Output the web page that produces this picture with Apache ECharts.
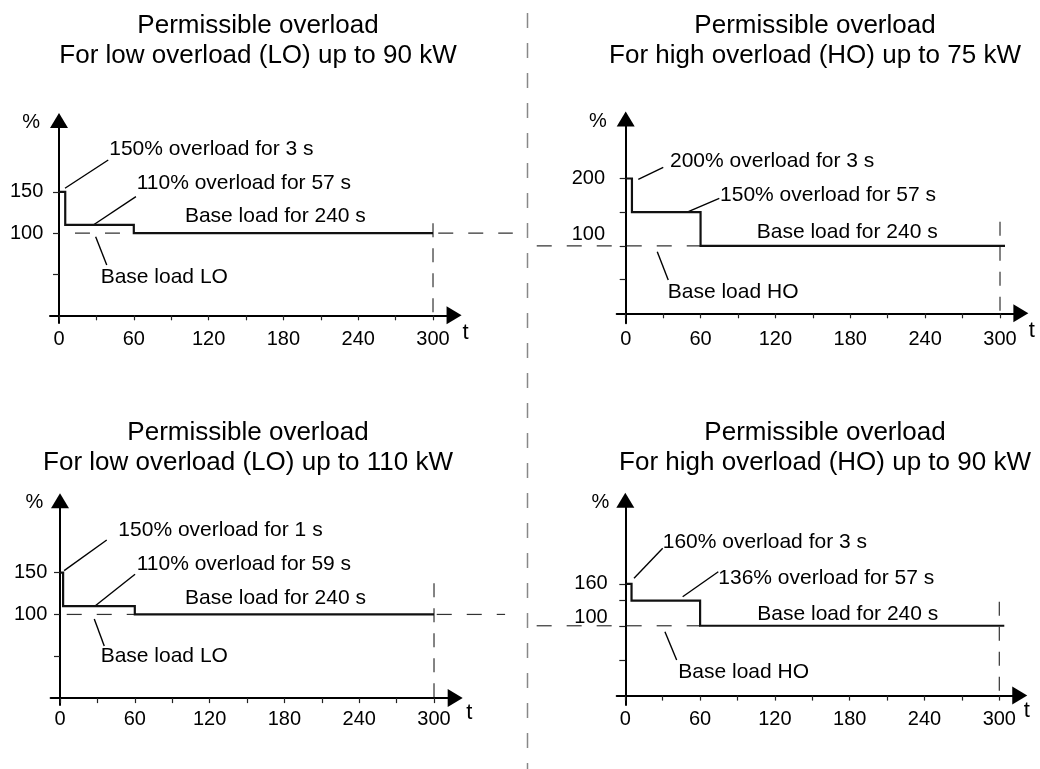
<!DOCTYPE html>
<html><head><meta charset="utf-8">
<script src="https://cdn.jsdelivr.net/npm/echarts@6/dist/echarts.min.js"></script>
<style>html,body{margin:0;padding:0;background:#fff}#c{width:1040px;height:769px}</style>
</head><body><div id="c"></div>
<script>
// ---------- DATA ----------
const titles = [
  'Permissible overload\nFor low overload (LO) up to 90 kW',
  'Permissible overload\nFor high overload (HO) up to 75 kW',
  'Permissible overload\nFor low overload (LO) up to 110 kW',
  'Permissible overload\nFor high overload (HO) up to 90 kW'
];
const xTicks = [0, 30, 60, 90, 120, 150, 180, 210, 240, 270, 300];
const xLabels = [0, 60, 120, 180, 240, 300];

// Top-left: LO up to 90 kW
const tlStep = [[0,150],[5,150],[5,110],[60,110],[60,100],[300,100]];
const tlBaseDashA = [[12.8,100],[60,100]];
const tlBaseDashB = [[304.2,100],[364,100]];
const tlEndDash = [[300,111.8],[300,0]];
const tlLeaders = [[[4.8,154.4],[39.5,188.8]], [[27.5,109.8],[61.7,144.2]], [[29.4,95.5],[38.3,61.1]]];
const tlNotes = [[40.3,202.1,'150% overload for 3 s'],[62.3,160.4,'110% overload for 57 s'],[101,119.9,'Base load for 240 s'],[33.4,46.2,'Base load LO']];
const tlYTicks = [50,100,150];
const tlYLabels = [100,150];

// Top-right: HO up to 75 kW
const trStep = [[0,200],[5,200],[5,150],[60,150],[60,100],[304,100]];
const trBaseDash = [[-71.3,100],[60,100]];
const trEndDash = [[300,135.9],[300,0]];
const trLeaders = [[[10.1,198.8],[30.1,216.6]], [[50.2,150.7],[75,170.6]], [[25.3,91.4],[34.1,49.4]]];
const trNotes = [[35.5,226,'200% overload for 3 s'],[75.6,174.5,'150% overload for 57 s'],[105,119.6,'Base load for 240 s'],[33.7,32,'Base load HO']];
const trYTicks = [50,100,150,200];
const trYLabels = [100,200];

// Bottom-left: LO up to 110 kW
const blStep = [[0,150],[2.5,150],[2.5,110],[60,110],[60,100],[300,100]];
const blBaseDashA = [[5.4,100],[60,100]];
const blBaseDashB = [[302.2,100],[357,100]];
const blEndDash = [[300,137.2],[300,0]];
const blLeaders = [[[3.3,152.3],[37.5,188.9]], [[28.1,110.1],[60.2,148]], [[27.5,94.5],[35.5,62.3]]];
const blNotes = [[46.8,200.9,'150% overload for 1 s'],[61.5,159.9,'110% overload for 59 s'],[100.3,119.3,'Base load for 240 s'],[32.6,49.5,'Base load LO']];
const blYTicks = [50,100,150];
const blYLabels = [100,150];

// Bottom-right: HO up to 90 kW
const brStep = [[0,160],[5,160],[5,136],[60,136],[60,100],[304,100]];
const brBaseDash = [[-71.1,100],[60,100]];
const brEndDash = [[300,134.5],[300,0]];
const brLeaders = [[[7,168],[30,211]], [[46,141.6],[74.6,177.4]], [[31.8,91.5],[41.2,51]]];
const brNotes = [[30,219,'160% overload for 3 s'],[74.6,168,'136% overload for 57 s'],[105.9,116.4,'Base load for 240 s'],[42.5,33.4,'Base load HO']];
const brYTicks = [50,100,136,160];
const brYLabels = [100,160];

// ---------- LAYOUT / STYLE ----------
const FONT = '"Liberation Sans", Arial, Helvetica, sans-serif';
const INK = '#000';
const OVER_MIN = -80, OVER_MAX = 380;   // overlay extent for dashed guides
const layouts = [
  {x0:59,    kx:1.2467, y0:315.3, ky:0.8227, xmin:-7.2, xmax:316.9, ymin:-9.4,  ymax:236.8, yLM:6.7,  xLM:6, tGap:8.5, tDrop:18, pctPad:19, raise:0,    tx:258, ty:11},
  {x0:625.7, kx:1.2477, y0:313.3, ky:0.674,  xmin:-7.2, xmax:316.7, ymin:-14.8, ymax:288.3, yLM:11.7, xLM:6, tGap:8,   tDrop:18, pctPad:19, raise:11.7, tx:815, ty:10.5},
  {x0:60,    kx:1.2467, y0:698.1, ky:0.8367, xmin:-7.5, xmax:317,   ymin:-8.2,  ymax:235.8, yLM:3.3,  xLM:5, tGap:11,  tDrop:15, pctPad:16.7, raise:0,  tx:248, ty:417.5},
  {x0:625.3, kx:1.2467, y0:695.6, ky:0.6983, xmin:-6.9, xmax:316.4, ymin:-13.5, ymax:279.8, yLM:9,    xLM:4, tGap:4,   tDrop:15, pctPad:16, raise:8.3,  tx:825, ty:417.5}
];
const panels = [
  {step:tlStep, dashes:[tlBaseDashA, tlBaseDashB], endDash:tlEndDash, leaders:tlLeaders, notes:tlNotes, yTicks:tlYTicks, yLabels:tlYLabels},
  {step:trStep, dashes:[trBaseDash], endDash:trEndDash, leaders:trLeaders, notes:trNotes, yTicks:trYTicks, yLabels:trYLabels},
  {step:blStep, dashes:[blBaseDashA, blBaseDashB], endDash:blEndDash, leaders:blLeaders, notes:blNotes, yTicks:blYTicks, yLabels:blYLabels},
  {step:brStep, dashes:[brBaseDash], endDash:brEndDash, leaders:brLeaders, notes:brNotes, yTicks:brYTicks, yLabels:brYLabels}
];

const grid = [], xAxis = [], yAxis = [], series = [], graphic = [];
const N = panels.length;
panels.forEach((p, i) => {
  const L = layouts[i];
  const top = L.y0 - L.ymax * L.ky, height = (L.ymax - L.ymin) * L.ky;
  grid[i] = {left: L.x0 + L.xmin * L.kx, top, width: (L.xmax - L.xmin) * L.kx, height, containLabel: false, outerBoundsMode: 'none'};
  grid[N + i] = {left: L.x0 + OVER_MIN * L.kx, top, width: (OVER_MAX - OVER_MIN) * L.kx, height, containLabel: false, outerBoundsMode: 'none'};

  xAxis[i] = {
    type: 'value', gridIndex: i, min: L.xmin, max: L.xmax,
    splitLine: {show: false},
    axisLine: {show: true, onZero: true, symbol: ['none', 'triangle'], symbolSize: [18, 15], lineStyle: {color: INK, width: 2}},
    axisTick: {show: true, customValues: xTicks, length: 5, lineStyle: {color: '#222', width: 1.2}},
    axisLabel: {show: true, customValues: xLabels, margin: L.xLM, fontSize: 20, color: INK, fontFamily: FONT},
    name: 't', nameLocation: 'end', nameGap: L.tGap, nameMoveOverlap: false,
    nameTextStyle: {fontSize: 22, color: INK, fontFamily: FONT, align: 'left', verticalAlign: 'top', lineHeight: L.tDrop * 2}
  };
  xAxis[N + i] = {type: 'value', gridIndex: N + i, min: OVER_MIN, max: OVER_MAX, show: false,
    axisLine: {show: false}, axisTick: {show: false}, axisLabel: {show: false}, splitLine: {show: false}};

  const raise = L.raise;
  yAxis[i] = {
    type: 'value', gridIndex: i, min: L.ymin, max: L.ymax,
    splitLine: {show: false},
    axisLine: {show: true, onZero: true, symbol: ['none', 'triangle'], symbolSize: [18, 15], lineStyle: {color: INK, width: 2}},
    axisTick: {show: true, customValues: p.yTicks, length: 6, lineStyle: {color: '#222', width: 1.2}},
    axisLabel: {
      show: true, customValues: p.yLabels, margin: L.yLM, fontSize: 20, color: INK, fontFamily: FONT,
      formatter: v => (v === 100 && raise) ? '{r|' + v + '}' : '{n|' + v + '}',
      rich: {
        n: {fontSize: 20, color: INK, fontFamily: FONT},
        r: {fontSize: 20, color: INK, fontFamily: FONT, padding: [0, 0, raise * 2, 0]}
      }
    },
    name: '%', nameLocation: 'end', nameGap: -2, nameMoveOverlap: false,
    nameTextStyle: {fontSize: 20, color: INK, fontFamily: FONT, align: 'right', verticalAlign: 'middle', padding: [0, L.pctPad, 0, 0]}
  };
  yAxis[N + i] = {type: 'value', gridIndex: N + i, min: L.ymin, max: L.ymax, show: false,
    axisLine: {show: false}, axisTick: {show: false}, axisLabel: {show: false}, splitLine: {show: false}};

  const main = {xAxisIndex: i, yAxisIndex: i, symbol: 'none', clip: false, silent: true, animation: false};
  const over = {xAxisIndex: N + i, yAxisIndex: N + i, symbol: 'none', clip: false, silent: true, animation: false};
  p.dashes.forEach(d => series.push(Object.assign({type: 'line', data: d, z: 1,
    lineStyle: {color: '#333', width: 1.2, type: [15, 15]}}, over)));
  series.push(Object.assign({type: 'line', data: p.endDash, z: 1,
    lineStyle: {color: '#333', width: 1.2, type: [14, 11]}}, over));
  series.push(Object.assign({type: 'line', data: p.step, z: 3,
    lineStyle: {color: '#111', width: 2.2, join: 'miter', cap: 'butt'}}, main));
  p.leaders.forEach(seg => series.push(Object.assign({type: 'line', data: seg, z: 2,
    lineStyle: {color: INK, width: 1.4}}, main)));
  series.push({
    type: 'scatter', xAxisIndex: i, yAxisIndex: i, data: p.notes, symbolSize: 0, clip: false, silent: true, animation: false,
    itemStyle: {opacity: 1},
    label: {show: true, position: 'right', distance: 0, formatter: q => q.data[2], fontSize: 21, color: INK, opacity: 1, textBorderWidth: 0, fontFamily: FONT}
  });
  graphic.push({
    type: 'text', x: L.tx, y: L.ty, silent: true,
    style: {text: titles[i], align: 'center', verticalAlign: 'top', fontSize: 26, lineHeight: 30, fontFamily: FONT, fill: INK}
  });
});
graphic.push({
  type: 'line', silent: true, shape: {x1: 527.5, y1: 13, x2: 527.5, y2: 769},
  style: {stroke: '#888', lineWidth: 1.5, lineDash: [15, 15]}
});

const chart = echarts.init(document.getElementById('c'), null, {renderer: 'canvas'});
chart.setOption({animation: false, backgroundColor: '#fff', grid, xAxis, yAxis, series, graphic});
</script></body></html>
